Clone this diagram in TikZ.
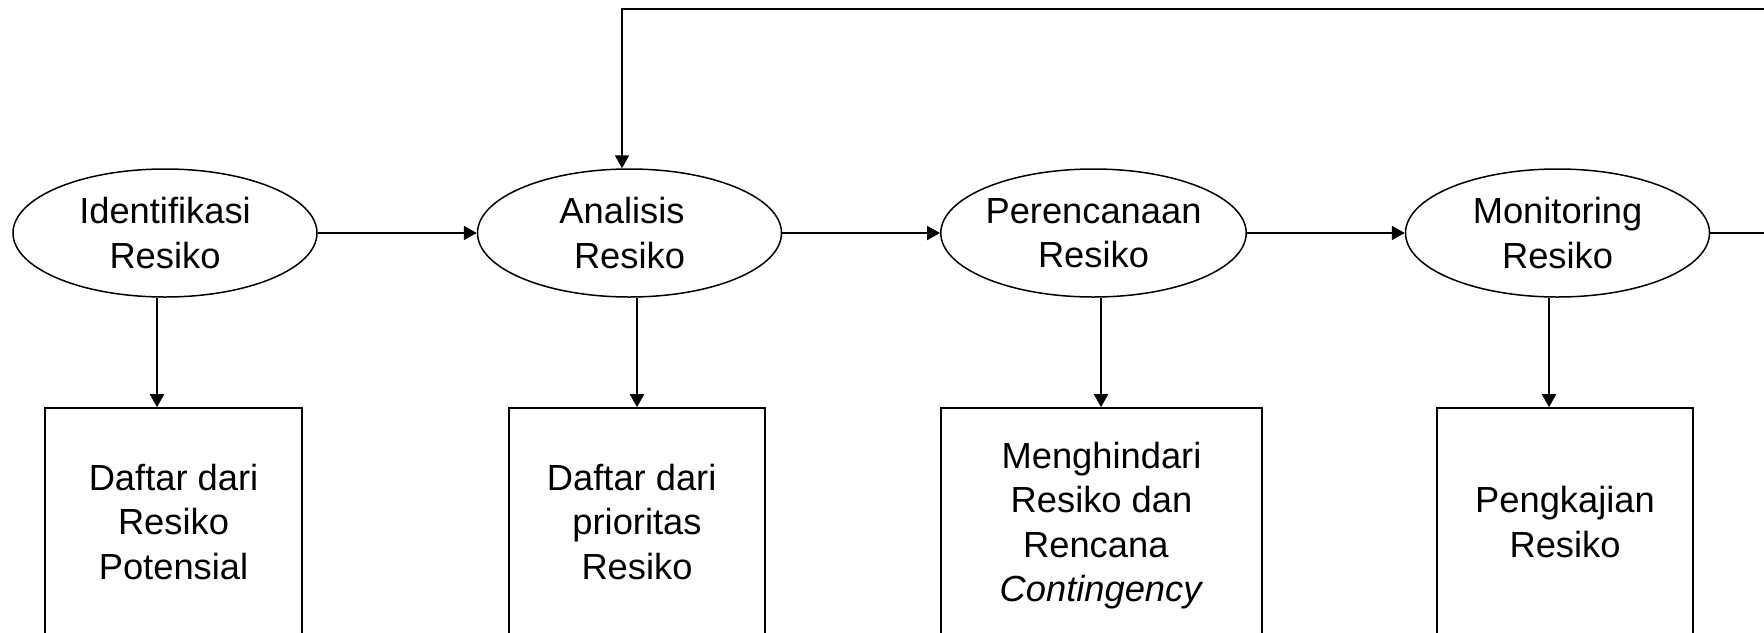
\documentclass[tikz,border=0pt]{standalone}
\usepackage{fontspec}
\setmainfont{Liberation Sans}
\usetikzlibrary{arrows.meta,shapes.geometric}
% invisible padding after a line of text
\newcommand{\padr}[1]{\rule{#1}{0pt}}
\begin{document}
\begin{tikzpicture}[x=0.5pt,y=-0.5pt,
  every node/.style={font=\fontsize{18.15pt}{22.25pt}\selectfont, inner sep=0pt, align=center},
  stage/.style={ellipse, draw, line width=0.75pt, minimum width=152pt, minimum height=64pt},
  outbox/.style={rectangle, draw, line width=0.85pt, minimum height=118pt},
  flow/.style={line width=1pt, -{Triangle[length=6.5pt,width=7pt]}}]
\useasboundingbox (0,0) rectangle (1764,632);
\clip (0,0) rectangle (1764,632);

% process stages
\node[stage] (e1) at (165,233)    {Identifikasi\\Resiko};
\node[stage] (e2) at (629.5,233)  {Analisis\padr{7.5pt}\\Resiko};
\node[stage] (e3) at (1093.5,233) {Perencanaan\\Resiko};
\node[stage] (e4) at (1557.5,233) {Monitoring\\Resiko};

% outputs of each stage
\node[outbox, minimum width=128.5pt] (b1) at (173.5,526)
  {\strut Daftar dari\\\strut Resiko\\\strut Potensial};
\node[outbox, minimum width=128pt] (b2) at (637,526)
  {\strut Daftar dari\padr{5.3pt}\\\strut prioritas\\\strut Resiko};
\node[outbox, minimum width=160.5pt] (b3) at (1101.5,526)
  {\strut Menghindari\\\strut Resiko dan\\\strut Rencana\padr{5.7pt}\\\strut\textit{Contingency}};
\node[outbox, minimum width=128pt] (b4) at (1565,526)
  {\strut Pengkajian\\\strut Resiko};

% main flow
\draw[flow] (e1.east) -- (e2.west);
\draw[flow] (e2.east) -- (e3.west);
\draw[flow] (e3.east) -- (e4.west);

% stage to output
\draw[flow] ([xshift=-4pt]e1.south)    -- ([xshift=-4pt]e1.south |- b1.north);
\draw[flow] ([xshift=3.75pt]e2.south)  -- ([xshift=3.75pt]e2.south |- b2.north);
\draw[flow] ([xshift=3.75pt]e3.south)  -- ([xshift=3.75pt]e3.south |- b3.north);
\draw[flow] ([xshift=-4.25pt]e4.south) -- ([xshift=-4.25pt]e4.south |- b4.north);

% feedback loop from monitoring back to analysis
\draw[flow] (e4.east) -- (1800,233) -- (1800,9) -- (622,9)
  -- ([xshift=-3.75pt]e2.north);
\end{tikzpicture}
\end{document}
